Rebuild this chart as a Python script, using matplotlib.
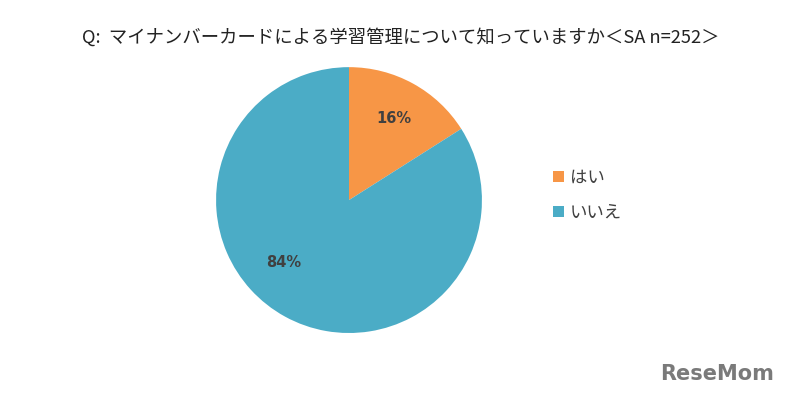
import numpy as np
import matplotlib
matplotlib.use('Agg')
import matplotlib.pyplot as plt
from matplotlib.patches import Patch

plt.rcParams['font.family'] = ['Noto Sans CJK JP', 'DejaVu Sans']

# data
labels = ['はい', 'いいえ']
values = [16, 84]
colors = ['#F79646', '#4BACC6']
title = 'Q:  マイナンバーカードによる学習管理について知っていますか＜SA n=252＞'

fig = plt.figure(figsize=(8, 3.98), dpi=100)
fig.patch.set_facecolor('white')

ax = fig.add_axes([0.27, 0.1633, 0.3325, 0.668])
wedges, texts = ax.pie(values, colors=colors, startangle=90, counterclock=False,
                       radius=1.0, wedgeprops=dict(linewidth=0))
ax.set_xlim(-1, 1)
ax.set_ylim(-1, 1)
ax.set_aspect('equal')

# percentage labels
label_pos = [(61.2, 0.70), (-136.0, 0.68)]
for v, (ang, r) in zip(values, label_pos):
    a = np.deg2rad(ang)
    ax.text(r * np.cos(a), r * np.sin(a), f'{v}%', ha='center', va='center',
            fontsize=10.5, fontweight='bold', color='#404040',
            family='DejaVu Sans')

handles = [Patch(facecolor=c, edgecolor='none') for c in colors]
fig.legend(handles, labels, loc='center left', bbox_to_anchor=(0.672, 0.51),
           frameon=False, fontsize=12.5, handlelength=0.6, handleheight=0.6,
           handletextpad=0.35, labelspacing=0.95, labelcolor='#404040')

fig.text(0.501, 0.907, title, ha='center', va='center', fontsize=13.2, color='#222222')

# watermark
fig.text(0.968, 0.06, 'ReseMom', ha='right', va='center', fontsize=15,
         fontweight='bold', color='#7a7a7a', family='DejaVu Sans')

fig.savefig('out.png', dpi=100)
